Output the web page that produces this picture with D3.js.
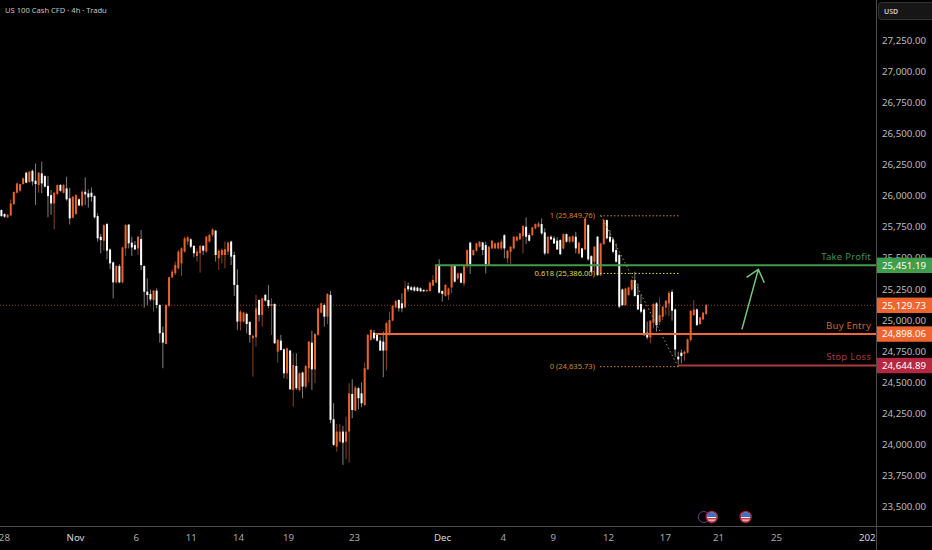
<!DOCTYPE html>
<html><head><meta charset="utf-8">
<style>html,body{margin:0;padding:0;background:#000;overflow:hidden}text{font-family:"Noto Sans",sans-serif}</style>
<script src="https://cdn.jsdelivr.net/npm/d3@7"></script></head><body>
<script>
const opens=[25885,25853,25826,25842,25933,26024,26040,26094,26185,26110,
26201,26121,26086,26180,26158,26078,26005,25938,26014,26086,
26024,26059,25979,25823,25853,25971,25922,26032,26019,26024,
25997,25836,25670,25638,25772,25568,25464,25303,25434,25303,
25576,25767,25622,25603,25576,25651,25434,25228,25209,25161,
25236,25121,24898,24807,25113,25344,25376,25416,25456,25550,
25631,25649,25596,25515,25537,25596,25550,25631,25684,25719,
25497,25523,25523,25550,25631,25523,25282,24987,24987,25049,
24984,24853,24861,25161,25041,25202,25161,25113,25129,24746,
24834,24764,24571,24754,24437,24630,24437,24577,24464,24612,
24818,24603,24880,25059,25121,25027,25202,24201,23981,24021,
24102,24021,24102,24405,24271,24451,24410,24317,24603,24840,
24898,24880,24834,24826,24754,24880,24995,25102,25161,25134,
25102,25274,25263,25263,25261,25255,25242,25231,25234,25277,
25301,25443,25234,25194,25201,25262,25437,25335,25375,25295,
25434,25622,25522,25557,25590,25624,25603,25442,25576,25576,
25576,25576,25683,25496,25549,25576,25638,25649,25675,25750,
25683,25683,25737,25750,25772,25705,25536,25670,25657,25638,
25643,25576,25691,25630,25630,25670,25536,25576,25568,25764,
25514,25469,25670,25361,25611,25804,25670,25649,25563,25522,
25246,25120,25201,25246,25321,25201,25128,25085,24898,24860,
24978,25134,24986,25026,25101,25134,25227,25085,24705,24737,
24726,24737,24839,25040,25085,24967,25005,25048];
const closes=[25836,25831,25847,25938,26030,26099,26094,26140,26105,26193,
26115,26094,26185,26099,26073,25997,25938,26024,26086,26040,
26086,25971,25818,25992,26005,25922,26032,26011,25987,25992,
25826,25657,25643,25764,25558,25456,25303,25434,25303,25584,
25764,25617,25584,25568,25670,25442,25228,25201,25166,25236,
25120,24893,24818,25121,25344,25389,25443,25550,25577,25657,
25665,25590,25537,25550,25596,25558,25671,25684,25730,25523,
25558,25564,25569,25623,25510,25282,24987,25067,25059,24968,
24880,24872,25094,25041,25175,25156,25113,25129,24813,24840,
24759,24571,24772,24443,24638,24451,24571,24464,24630,24826,
24603,24888,25094,25134,25027,25210,24196,23995,24102,24102,
24013,24102,24410,24276,24456,24370,24330,24612,24880,24920,
24853,24834,24754,24754,24974,25000,25113,25153,25094,25094,
25255,25247,25242,25236,25234,25231,25231,25242,25301,25322,
25435,25220,25210,25282,25254,25437,25308,25375,25300,25442,
25563,25450,25563,25616,25630,25563,25450,25590,25638,25616,
25622,25630,25576,25557,25590,25670,25670,25697,25756,25670,
25638,25745,25772,25777,25697,25536,25670,25649,25616,25568,
25530,25691,25630,25670,25675,25576,25622,25504,25817,25488,
25388,25590,25361,25616,25804,25657,25630,25549,25469,25107,
25120,25254,25262,25321,25193,25085,25067,24879,24860,24994,
25128,24959,25040,25107,25155,25219,25075,24763,24683,24710,
24745,24844,25075,25085,24959,25021,25059,25120];
const highs=[25890,25858,25853,25971,26035,26105,26099,26148,26193,26201,
26212,26260,26191,26274,26166,26158,26046,26032,26091,26094,
26094,26153,26064,25997,26014,25979,26046,26148,26051,26067,
26005,25858,25692,25769,25783,25576,25469,25442,25450,25590,
25772,25772,25670,25635,25676,25724,25440,25335,25246,25241,
25255,25126,24947,25126,25349,25408,25470,25564,25585,25671,
25676,25657,25604,25577,25604,25604,25676,25692,25738,25725,
25569,25577,25631,25631,25639,25550,25408,25081,25067,25059,
24990,24880,25202,25167,25180,25210,25282,25175,25134,24845,
24880,24772,24780,24759,24732,24732,24577,24585,24638,24831,
24915,24893,25102,25140,25134,25215,25234,24330,24164,24164,
24148,24223,24491,24523,24469,24459,24499,24657,24888,24928,
24920,24888,24866,24907,24987,25067,25121,25161,25167,25215,
25314,25301,25274,25274,25269,25263,25247,25247,25306,25362,
25440,25489,25236,25290,25262,25442,25442,25380,25380,25442,
25568,25630,25568,25622,25635,25630,25630,25595,25643,25622,
25630,25649,25689,25563,25595,25675,25675,25702,25764,25826,
25697,25750,25777,25791,25817,25737,25675,25683,25675,25665,
25649,25697,25697,25675,25681,25710,25630,25581,25826,25772,
25522,25595,25675,25622,25817,25809,25724,25665,25616,25531,
25254,25260,25268,25327,25388,25295,25201,25093,24986,25000,
25134,25144,25182,25112,25160,25235,25246,25093,24745,24763,
24753,24852,25075,25160,25093,25026,25064,25128];
const lows=[25831,25823,25820,25836,25925,26019,26032,26089,26099,26105,
26083,25925,26024,26019,26067,25826,25845,25729,26005,26032,
26019,25960,25769,25818,25845,25917,25912,25925,25904,25952,
25818,25630,25536,25558,25488,25410,25174,25295,25295,25295,
25515,25576,25515,25563,25523,25402,25099,25120,25153,25067,
25094,24818,24612,24805,25102,25336,25362,25408,25354,25542,
25604,25577,25505,25470,25381,25523,25542,25623,25671,25470,
25403,25456,25416,25523,25443,25194,24920,24915,24979,24893,
24818,24544,24786,24987,24947,25148,25094,24880,24807,24657,
24754,24531,24523,24437,24303,24437,24424,24370,24451,24496,
24437,24491,24874,25054,24947,24968,24169,23987,23941,24013,
23834,23879,23853,24209,24266,24282,24298,24308,24598,24834,
24840,24826,24754,24539,24593,24874,24990,25094,25067,25062,
25097,25228,25234,25228,25228,25226,25226,25226,25228,25274,
25295,25215,25148,25188,25160,25214,25303,25321,25295,25273,
25415,25370,25517,25549,25584,25522,25375,25437,25571,25571,
25568,25563,25496,25455,25450,25568,25632,25643,25536,25611,
25630,25675,25729,25745,25686,25522,25530,25643,25611,25563,
25522,25568,25622,25616,25624,25536,25528,25496,25563,25477,
25375,25388,25353,25353,25603,25649,25622,25536,25461,25093,
25112,25115,25195,25235,25187,25080,25053,24871,24844,24812,
24932,24906,24959,25000,25040,25032,24994,24704,24645,24651,
24672,24731,24825,25032,24951,24962,25000,25042];

const priceTicks=[23500,23750,24000,24250,24500,24750,25000,25250,25500,25750,26000,26250,26500,26750,27000,27250];
const timeTickLabels=["28","Nov","6","11","14","19","23","Dec","4","9","12","17","21","25","202"];
const timeTickBars=[0.8,23.7,43.3,61,76.2,92.3,113.6,141.9,161.5,177.6,195.4,213.7,230.8,249.5,278.7];
const lastPrice=25129.73;
const levelNames=["Take Profit","Buy Entry","Stop Loss"];
const levelPrices=[25451.19,24898.06,24644.89];
const levelStartBars=[139.6,120.4,217.9];
const fibLabels=["1 (25,849.76)","0.618 (25,386.00)","0 (24,635.73)"];
const fibPrices=[25849.76,25386.00,24635.73];
const arrowBars=[238.5,243.8,240,245.7];
const arrowPrices=[24936,25419,25355,25311];
const eventBars=[228.8,239.7];

const W=932,H=550,plotR=876,axisY=526;
const UP="#e9632b",DOWN="#ffffff",UPW="#8a4322",DOWNW="#808080";
const GREEN="#3f9d4e",ORANGE="#f0652f",RED="#b5283f";
const levelLine=["#3f9d4e","#ea6a3c","#ad3a3f"];
const levelText=["#3f9150","#d0652f","#a8363c"];
const fibColors=["#d9822b","#e2d45a","#d9822b"];

const x=d3.scaleLinear().domain([0,227]).range([1.4,706.2]);
const y=d3.scaleLinear().domain([23500,27250]).range([506.4,40.4]);

const svg=d3.select("body").append("svg").attr("width",W).attr("height",H).style("display","block");
svg.append("rect").attr("width",W).attr("height",H).attr("fill","#000");

// last-price dotted line
const under=svg.append("g").attr("transform","translate(0,1.4)");
under.append("line").attr("x1",0).attr("x2",plotR).attr("y1",y(lastPrice)).attr("y2",y(lastPrice))
 .attr("stroke","#93442a").attr("stroke-width",1).attr("stroke-dasharray","1 2");

// candles
const idx=d3.range(opens.length);
const candles=svg.append("g");
candles.selectAll("line").data(idx).join("line")
 .attr("x1",i=>x(i)).attr("x2",i=>x(i)).attr("y1",i=>y(highs[i])).attr("y2",i=>y(lows[i]))
 .attr("stroke",i=>closes[i]>=opens[i]?UPW:DOWNW).attr("stroke-width",1);
candles.selectAll("rect").data(idx).join("rect")
 .attr("x",i=>x(i)-1).attr("width",2)
 .attr("y",i=>y(Math.max(opens[i],closes[i])))
 .attr("height",i=>Math.max(1,Math.abs(y(opens[i])-y(closes[i]))))
 .attr("fill",i=>closes[i]>=opens[i]?UP:DOWN);

const over=svg.append("g").attr("transform","translate(0,1.4)");
// level lines
levelPrices.forEach((p,i)=>{
 over.append("line").attr("x1",x(levelStartBars[i])).attr("x2",plotR).attr("y1",y(p)).attr("y2",y(p))
  .attr("stroke",levelLine[i]).attr("stroke-width",2);
 over.append("text").attr("x",871).attr("y",y(p)-8.5).attr("dy",".32em").attr("text-anchor","end")
  .attr("font-size",9.6).attr("letter-spacing",.2).attr("fill",levelText[i]).text(levelNames[i]);
});

// fib
const fibStartX=600,fibEndX=680;
fibPrices.forEach((p,i)=>{
 over.append("line").attr("x1",fibStartX).attr("x2",fibEndX).attr("y1",y(p)).attr("y2",y(p))
  .attr("stroke",fibColors[i]).attr("stroke-width",1).attr("stroke-dasharray","1.5 2");
 over.append("text").attr("x",595).attr("y",y(p)).attr("dy",".32em").attr("text-anchor","end")
  .attr("font-size",7.6).attr("fill",fibColors[i]).text(fibLabels[i]);
});
over.append("line").attr("x1",601).attr("x2",678).attr("y1",y(fibPrices[0])).attr("y2",y(fibPrices[2]))
 .attr("stroke","#a8953c").attr("stroke-width",1).attr("stroke-dasharray","1.5 2.5");

// arrow
const ap=arrowBars.map((b,i)=>[x(b),y(arrowPrices[i])]);
const gen=d3.line();
over.append("path").attr("d",gen([ap[0],ap[1]])+gen([ap[2],ap[1],ap[3]]))
 .attr("fill","none").attr("stroke","#74c77f").attr("stroke-width",1.5);

// events
const defs=svg.append("defs");
eventBars.forEach((b,i)=>{
 const cx=x(b),cy=517;
 if(i===0) svg.append("circle").attr("cx",cx-8).attr("cy",cy).attr("r",5.5).attr("fill","#000").attr("stroke","#6a3a8c").attr("stroke-width",1);
 defs.append("clipPath").attr("id","f"+i).append("circle").attr("cx",cx).attr("cy",cy).attr("r",4.8);
 svg.append("circle").attr("cx",cx).attr("cy",cy).attr("r",5.6).attr("fill","#000").attr("stroke","#a8283a").attr("stroke-width",1.3);
 const g=svg.append("g").attr("clip-path",`url(#f${i})`);
 g.append("rect").attr("x",cx-5).attr("y",cy-5).attr("width",10).attr("height",10).attr("fill","#e9e9ef");
 g.append("rect").attr("x",cx-5).attr("y",cy+1).attr("width",10).attr("height",1.6).attr("fill","#d23a4a");
 g.append("rect").attr("x",cx-5).attr("y",cy+3.6).attr("width",10).attr("height",1.6).attr("fill","#d23a4a");
 g.append("rect").attr("x",cx-5).attr("y",cy-5).attr("width",10).attr("height",5).attr("fill","#3f6fc0");
});

// panes
svg.append("rect").attr("x",plotR+1).attr("y",0).attr("width",W-plotR).attr("height",H).attr("fill","#000");
svg.append("rect").attr("x",0).attr("y",axisY+1).attr("width",W).attr("height",H-axisY).attr("fill","#000");
svg.append("line").attr("x1",plotR+.5).attr("x2",plotR+.5).attr("y1",0).attr("y2",H).attr("stroke","#4d4d4d");
svg.append("line").attr("x1",0).attr("x2",W).attr("y1",axisY+.5).attr("y2",axisY+.5).attr("stroke","#4d4d4d");

// axes
const FF='"Noto Sans",sans-serif';
const ay=svg.append("g").attr("transform",`translate(${plotR},0)`)
 .call(d3.axisRight(y).tickValues(priceTicks).tickFormat(d3.format(",.2f")).tickSize(0).tickPadding(6));
ay.select(".domain").remove();
ay.selectAll("text").attr("font-size",9.7).attr("fill","#bcbcbc").style("font-family",FF);

const ax=svg.append("g").attr("transform",`translate(0,${axisY})`)
 .call(d3.axisBottom(x).tickValues(timeTickBars).tickFormat((d,i)=>timeTickLabels[i]).tickSize(0).tickPadding(8));
ax.select(".domain").remove();
ax.selectAll("text").attr("font-size",9.7).attr("fill",(d,i)=>timeTickLabels[i].length===3?"#d6d6d6":"#a8a8a8").style("font-family",FF);

// price tags
const tagLayer=svg.append("g").attr("transform","translate(0,1.4)");
const tagPrices=[levelPrices[0],lastPrice,levelPrices[1],levelPrices[2]];
const tagColors=[GREEN,ORANGE,ORANGE,RED];
tagPrices.forEach((p,i)=>{
 tagLayer.append("rect").attr("x",plotR+1).attr("y",y(p)-7.7).attr("width",W-plotR).attr("height",15.4).attr("fill",tagColors[i]);
 tagLayer.append("text").attr("x",plotR+6).attr("y",y(p)).attr("dy",".34em").attr("font-size",9.7).attr("fill","#fff").text(d3.format(",.2f")(p));
});

// USD button, title
svg.append("rect").attr("x",878.5).attr("y",2.5).attr("width",60).attr("height",17).attr("rx",3).attr("fill","#161616").attr("stroke","#333");
svg.append("text").attr("x",884).attr("y",11.5).attr("dy",".34em").attr("font-size",7).attr("font-weight",600).attr("fill","#d0d0d0").text("USD");
svg.append("text").attr("x",5).attr("y",10.5).attr("dy",".34em").attr("font-size",7.6).attr("fill","#c4c4c4").text("US 100 Cash CFD · 4h · Tradu");
</script></body></html>
